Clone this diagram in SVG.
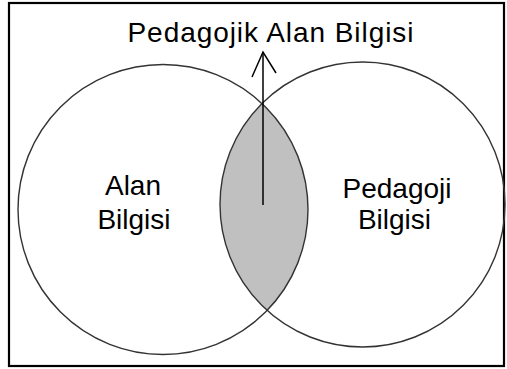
<svg xmlns="http://www.w3.org/2000/svg" width="507" height="369" viewBox="0 0 507 369">
<style>
.c{fill:none;stroke:#333;stroke-width:1.4}
.t{font-family:"Liberation Sans",Arial,sans-serif;font-size:28px;fill:#000;text-anchor:middle}
.a{fill:none;stroke:#000;stroke-width:1.5}
</style>
<rect x="0" y="0" width="507" height="369" fill="#fff"/>
<rect x="9" y="3" width="495" height="363" fill="none" stroke="#000" stroke-width="2.2"/>
<g id="overlap">
<path d="M262,103.6 A142.5,142.5 0 0 0 267.1,310.4 A145,145 0 0 0 262,103.6 Z" fill="#c0c0c0" stroke="none"/>
</g>
<g id="alan-bilgisi">
<circle class="c" cx="163" cy="209.5" r="145"/>
<text class="t" x="133" y="194.5">Alan</text>
<text class="t" x="134" y="228.5">Bilgisi</text>
</g>
<g id="pedagoji-bilgisi">
<circle class="c" cx="362.5" cy="204.5" r="142.5"/>
<text class="t" x="397" y="197.5">Pedagoji</text>
<text class="t" x="394.5" y="228.5">Bilgisi</text>
</g>
<g id="pedagojik-alan-bilgisi">
<text class="t" x="270.5" y="42" font-size="29.5" textLength="286" lengthAdjust="spacing">Pedagojik Alan Bilgisi</text>
</g>
<g id="connectors">
<line class="a" x1="263" y1="205" x2="263" y2="52"/>
<polyline class="a" points="252,77 263,52 276,73"/>
</g>
</svg>
